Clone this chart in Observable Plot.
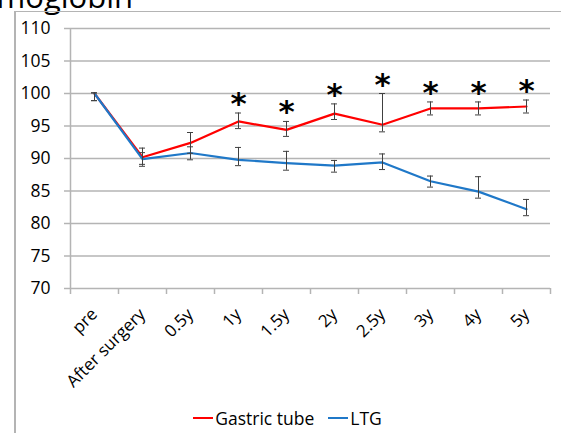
<!DOCTYPE html>
<html>
<head>
<meta charset="utf-8">
<script src="https://cdn.jsdelivr.net/npm/d3@7"></script>
<script src="https://cdn.jsdelivr.net/npm/@observablehq/plot@0.6"></script>
<style>
  html, body { margin: 0; padding: 0; background: white; }
  #wrap { position: relative; width: 561px; height: 433px; overflow: hidden; background: white; font-family: "Open Sans", sans-serif; }
  #title { position: absolute; right: 428px; top: -19px; font-size: 31px; line-height: 31px; color: #000; white-space: nowrap; }
  #frame { position: absolute; left: 14px; top: 11px; width: 700px; height: 600px; border-left: 2px solid #b4b4b4; border-top: 1.5px solid #b4b4b4; }
  #chart { position: absolute; left: 0; top: 0; }
  #legend { position: absolute; left: 0; width: 575px; top: 400px; text-align: center; font-size: 17.5px; color: #000; }
  #legend span.item { display: inline-flex; align-items: center; margin: 0 7px; }
  #legend span.sw { display: inline-block; width: 20px; height: 2px; margin-right: 2px; }
</style>
</head>
<body>
<div id="wrap">
  <div id="title">Hemoglobin</div>
  <div id="frame"></div>
  <div id="chart"></div>
  <div id="legend"></div>
</div>
<script>
const categories = ["pre", "After surgery", "0.5y", "1y", "1.5y", "2y", "2.5y", "3y", "4y", "5y"];
const gastricMean = [100, 90.2, 92.4, 95.7, 94.4, 96.9, 95.2, 97.7, 97.7, 98.0];
const gastricLow  = [98.9, 88.8, 90.8, 94.6, 93.4, 96.0, 94.1, 96.7, 96.7, 97.0];
const gastricHigh = [100.1, 91.6, 94.0, 97.0, 95.7, 98.4, 100.0, 98.7, 98.7, 99.0];
const ltgMean = [100, 89.9, 90.85, 89.8, 89.3, 88.9, 89.4, 86.5, 84.9, 82.2];
const ltgLow  = [98.9, 89.1, 89.8, 88.9, 88.2, 87.9, 88.3, 85.6, 83.9, 81.2];
const ltgHigh = [100.1, 90.9, 91.8, 91.7, 91.1, 89.7, 90.7, 87.3, 87.2, 83.7];
const significant = [false, false, false, true, true, true, true, true, true, true];
const yTicks = [70, 75, 80, 85, 90, 95, 100, 105, 110];
const seriesNames = ["Gastric tube", "LTG"];
const seriesColors = ["#ff0000", "#1f78c8"];

const W = 561, H = 400, mL = 70, mR = 11, mT = 28, mB = 112;
const step = (W - mL - mR) / categories.length;

const rows = [];
categories.forEach((c, i) => {
  rows.push({cat: c, series: seriesNames[0], mean: gastricMean[i], low: gastricLow[i], high: gastricHigh[i]});
});
categories.forEach((c, i) => {
  rows.push({cat: c, series: seriesNames[1], mean: ltgMean[i], low: ltgLow[i], high: ltgHigh[i]});
});
const stars = categories.map((c, i) => ({cat: c, top: gastricHigh[i], sig: significant[i]})).filter(d => d.sig);

const axisColor = "#b4b4b4";
const errColor = "#404040";
const capHalf = 3;

const plot = Plot.plot({
  width: W, height: H,
  marginLeft: mL, marginRight: mR, marginTop: mT, marginBottom: mB,
  style: {background: "transparent", fontFamily: "Open Sans, sans-serif", overflow: "visible"},
  x: {type: "band", domain: categories, padding: 0, label: null},
  y: {domain: [70, 110], label: null},
  color: {domain: seriesNames, range: seriesColors},
  marks: [
    Plot.gridY(yTicks, {stroke: axisColor, strokeOpacity: 1, strokeWidth: 1.5}),
    Plot.axisY(yTicks, {tickSize: 6, tickPadding: 14, fontSize: 17.5, stroke: axisColor, fill: "#000", label: null, strokeWidth: 1.5}),
    Plot.ruleX([categories[0]], {x: d => d, y1: 110, y2: 70, insetBottom: -6, dx: -step / 2, stroke: axisColor, strokeWidth: 1.5}),
    Plot.ruleX(categories, {x: d => d, y1: 70, y2: 70, insetBottom: -6, dx: -step / 2 + step, stroke: axisColor, strokeWidth: 1.5}),
    Plot.axisX({tickSize: 0, tickRotate: -45, tickPadding: 23, fontSize: 17, fill: "#000", label: null}),
    Plot.line(rows, {x: "cat", y: "mean", z: "series", stroke: "series", strokeWidth: 2.2}),
    Plot.ruleX(rows, {x: "cat", y1: "low", y2: "high", stroke: errColor, strokeWidth: 1}),
    Plot.tickY(rows, {x: "cat", y: "low", stroke: errColor, strokeWidth: 1, insetLeft: step / 2 - capHalf, insetRight: step / 2 - capHalf}),
    Plot.tickY(rows, {x: "cat", y: "high", stroke: errColor, strokeWidth: 1, insetLeft: step / 2 - capHalf, insetRight: step / 2 - capHalf}),
    Plot.text(stars, {x: "cat", y: "top", text: () => "*", fontSize: 31, fontWeight: "bold", fontFamily: "DejaVu Sans", fill: "#000", lineAnchor: "bottom", dy: 1})
  ]
});
document.getElementById("chart").appendChild(plot);

const legend = document.getElementById("legend");
seriesNames.forEach((name, i) => {
  const item = document.createElement("span");
  item.className = "item";
  const sw = document.createElement("span");
  sw.className = "sw";
  sw.style.background = seriesColors[i];
  item.appendChild(sw);
  item.appendChild(document.createTextNode(name));
  legend.appendChild(item);
});
</script>
</body>
</html>
